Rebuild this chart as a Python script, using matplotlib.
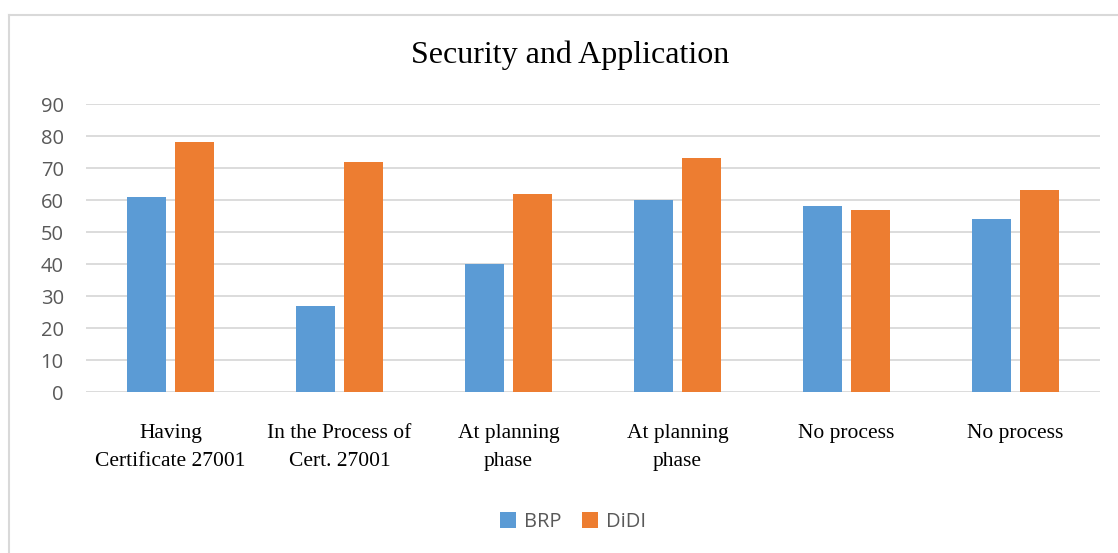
import numpy as np
import matplotlib.pyplot as plt
from matplotlib.lines import Line2D

# Datos
categorias = ['Having\nCertificate 27001', 'In the Process of\nCert. 27001',
              'At planning\nphase', 'At planning\nphase', 'No process', 'No process']
brp = [61, 27, 40, 60, 58, 54]
didi = [78, 72, 62, 73, 57, 63]
yticks = [0, 10, 20, 30, 40, 50, 60, 70, 80, 90]

azul = '#5B9BD5'
naranja = '#ED7D31'
gris = '#D9D9D9'

W, H = 1118, 553
fig = plt.figure(figsize=(W / 100, H / 100), dpi=100)
ax = fig.add_axes([86 / W, 1 - 392 / H, (1100 - 86) / W, (392 - 104) / H])

x = np.arange(len(categorias))
ancho = 0.225
sep = 0.059
ax.bar(x - (ancho + sep) / 2, brp, ancho, color=azul, label='BRP', zorder=3)
ax.bar(x + (ancho + sep) / 2, didi, ancho, color=naranja, label='DiDI', zorder=3)

ax.set_xlim(-0.5, len(categorias) - 0.5)
ax.set_ylim(0, 90)
ax.set_yticks(yticks)
ax.yaxis.grid(True, color=gris, linewidth=1.3, zorder=0)
ax.set_axisbelow(True)
for s in ax.spines.values():
    s.set_visible(False)
ax.tick_params(axis='both', length=0)
ax.tick_params(axis='y', labelsize=14.5, labelcolor='#595959', pad=16)
for t in ax.get_yticklabels():
    t.set_fontfamily('Open Sans')

ax.set_xticks(x)
ax.set_xticklabels(categorias, fontfamily='Liberation Serif', fontsize=15.5,
                   linespacing=1.65, va='top')
ax.tick_params(axis='x', pad=23)

fig.text(570 / W, 1 - 55 / H, 'Security and Application', ha='center', va='center',
         fontfamily='Liberation Serif', fontsize=23)

leg = fig.legend(loc='center', bbox_to_anchor=(573 / W, 1 - 522 / H), ncol=2,
                 frameon=False, handlelength=0.8, handleheight=0.8,
                 handletextpad=0.4, columnspacing=1.0,
                 prop={'family': 'Open Sans', 'size': 14.5})
for t in leg.get_texts():
    t.set_color('#595959')

# Borde del gráfico
fig.add_artist(Line2D([9 / W, 1], [1 - 14.5 / H, 1 - 14.5 / H], color=gris, linewidth=1.5))
fig.add_artist(Line2D([9 / W, 9 / W], [0, 1 - 14.5 / H], color=gris, linewidth=1.5))

fig.savefig('out.png', dpi=100)
